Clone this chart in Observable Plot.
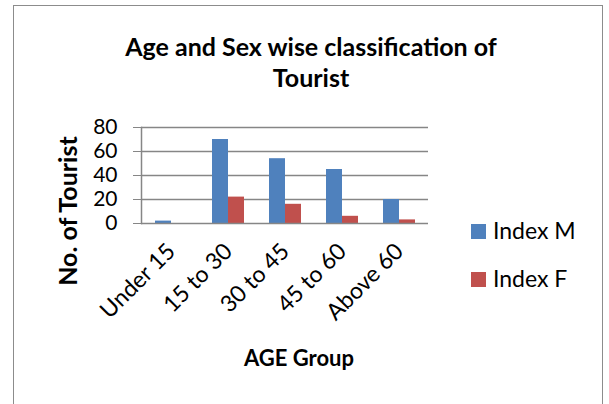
<!DOCTYPE html>
<html>
<head>
<meta charset="utf-8">
<script src="https://cdn.jsdelivr.net/npm/d3@7"></script>
<script src="https://cdn.jsdelivr.net/npm/@observablehq/plot@0.6"></script>
<style>
  html, body { margin: 0; padding: 0; background: #fff; }
  #wrap { position: relative; width: 609px; height: 404px; overflow: hidden; font-family: Lato, "Open Sans", sans-serif; color: #000; }
  #wrap svg { position: absolute; left: 0; top: 0; }
  .border { position: absolute; left: 13px; top: 5px; width: 590px; height: 420px; border: 1.5px solid #8c8c8c; box-sizing: border-box; }
  .title { position: absolute; left: 0; width: 622px; top: 31px; text-align: center; font-weight: bold; font-size: 25px; line-height: 31px; }
  .xlabel { position: absolute; left: 0; width: 598px; top: 344px; text-align: center; font-weight: bold; font-size: 22px; }
  .ylabel { position: absolute; left: 67px; top: 211px; transform: translate(-50%, -50%) rotate(-90deg); white-space: nowrap; font-weight: bold; font-size: 25px; }
  .leg { position: absolute; left: 471px; font-size: 23px; white-space: nowrap; line-height: 28px; }
  .leg span.sw { display: inline-block; width: 15px; height: 15px; vertical-align: middle; margin-right: 7px; position: relative; top: -2px; }
</style>
</head>
<body>
<div id="wrap">
  <div class="border"></div>
  <div class="title">Age and Sex wise classification of<br>Tourist</div>
  <div class="ylabel">No. of Tourist</div>
  <div class="xlabel">AGE Group</div>
  <div class="leg" style="top:216px"><span class="sw" style="background:#4F81BD"></span>Index M</div>
  <div class="leg" style="top:264px"><span class="sw" style="background:#C0504D"></span>Index F</div>
</div>
<script>
const categories = ["Under 15", "15 to 30", "30 to 45", "45 to 60", "Above 60"];
const indexM = [2, 70, 54, 45, 20];
const indexF = [0, 22, 16, 6, 3];
const yTicks = [0, 20, 40, 60, 80];

const rows = categories.map((c, i) => ({cat: c, m: indexM[i], f: indexF[i]}));

const chart = Plot.plot({
  width: 609,
  height: 404,
  marginLeft: 141,
  marginRight: 181,
  marginTop: 127,
  marginBottom: 181,
  style: {fontFamily: "Lato, 'Open Sans', sans-serif", background: "transparent", color: "#000"},
  x: {domain: categories, paddingInner: 0.44, paddingOuter: 0.22},
  y: {domain: [0, 80]},
  marks: [
    Plot.gridY(yTicks.slice(1), {stroke: "#868686", strokeOpacity: 1, strokeWidth: 1.5}),
    Plot.barY(rows, {x: "cat", y: "m", fill: "#4F81BD", insetRight: 16, insetLeft: 0}),
    Plot.barY(rows, {x: "cat", y: "f", fill: "#C0504D", insetLeft: 16, insetRight: 0}),
    Plot.ruleY([0], {stroke: "#868686", strokeWidth: 1.5}),
    Plot.frame({anchor: "left", stroke: "#868686", strokeWidth: 1.5}),
    Plot.axisY({ticks: yTicks, tickSize: 8, tickPadding: 16, fontSize: 21, label: null, stroke: "#868686"}),
    Plot.axisX({tickSize: 0, tickRotate: -45, fontSize: 23, tickPadding: 24, label: null})
  ]
});
document.getElementById("wrap").appendChild(chart);
</script>
</body>
</html>
